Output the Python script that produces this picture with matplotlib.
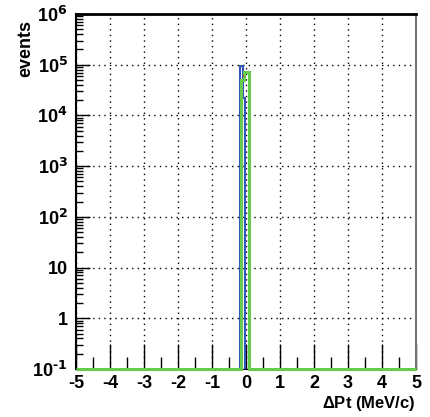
import numpy as np
import matplotlib.pyplot as plt
from matplotlib.ticker import MultipleLocator, LogLocator, FixedLocator

# histogram contents (bins outside these ranges are empty)
green_edges = [-5.0, -0.15, -0.05, 0.10, 5.0]
green_counts = [0, 50000, 72000, 0]
blue_edges = [-0.18, -0.10, -0.03]
blue_counts = [95000, 22000]
red_edges = [-0.10, -0.05]
red_counts = [60000]

xticks = [-5, -4, -3, -2, -1, 0, 1, 2, 3, 4, 5]
yticks = [0.1, 1, 10, 100, 1e3, 1e4, 1e5, 1e6]
ylabels = ['10$^{\\text{-1}}$', '1', '10', '10$^{\\text{2}}$', '10$^{\\text{3}}$',
           '10$^{\\text{4}}$', '10$^{\\text{5}}$', '10$^{\\text{6}}$']
ymin, ymax = 0.1, 1e6

plt.rcParams['font.family'] = ['Liberation Sans Narrow', 'Liberation Sans', 'DejaVu Sans']
plt.rcParams['font.weight'] = 'bold'
plt.rcParams['mathtext.fontset'] = 'custom'
plt.rcParams['mathtext.rm'] = 'Liberation Sans Narrow:bold'
plt.rcParams['mathtext.default'] = 'regular'

fig = plt.figure(figsize=(4.3, 4.17), dpi=100)
ax = fig.add_axes([76/430, 1-369/417, 340/430, 355/417])

def floor(c):
    return np.maximum(np.array(c, dtype=float), ymin)

ax.stairs(floor(green_counts), green_edges, color='#66cc4c', lw=2.2, baseline=ymin,
          clip_on=False, zorder=4)
ax.stairs(blue_counts, blue_edges, color='#3355bb', lw=1.5, baseline=ymin, zorder=3)
ax.stairs(red_counts, red_edges, color='#dd3333', lw=1.5, baseline=None, zorder=5)

ax.set_yscale('log')
ax.set_xlim(-5, 5)
ax.set_ylim(ymin, ymax)
ax.xaxis.set_major_locator(FixedLocator(xticks))
ax.xaxis.set_minor_locator(MultipleLocator(0.5))
ax.yaxis.set_major_locator(FixedLocator(yticks))
ax.yaxis.set_minor_locator(LogLocator(base=10, subs=np.arange(2, 10), numticks=20))
ax.set_xticklabels([str(t) for t in xticks])
ax.set_yticklabels(ylabels)

ax.tick_params(axis='x', which='major', direction='in', length=18, width=1, labelsize=13, pad=4)
ax.tick_params(axis='x', which='minor', direction='in', length=9, width=1)
ax.tick_params(axis='y', which='major', direction='in', length=10, width=1, labelsize=13, pad=6)
ax.tick_params(axis='y', which='minor', direction='in', length=5, width=1)
ax.tick_params(top=False, right=False, which='both')

ax.grid(True, which='major', color='black', linestyle=(0, (1, 3)), lw=1)

ax.spines['top'].set_linewidth(2)
ax.spines['left'].set_linewidth(1.5)
ax.spines['right'].set_color('#777777')
ax.spines['right'].set_linewidth(1.5)

fig.text(26/430, 1-20/417, 'events', rotation=90, ha='center', va='top',
         fontsize=13, fontweight='bold')
ax.set_xlabel('$\\Delta$Pt (MeV/c)', fontsize=12, fontweight='bold', loc='right', labelpad=2)

plt.savefig('out.png', dpi=100)
